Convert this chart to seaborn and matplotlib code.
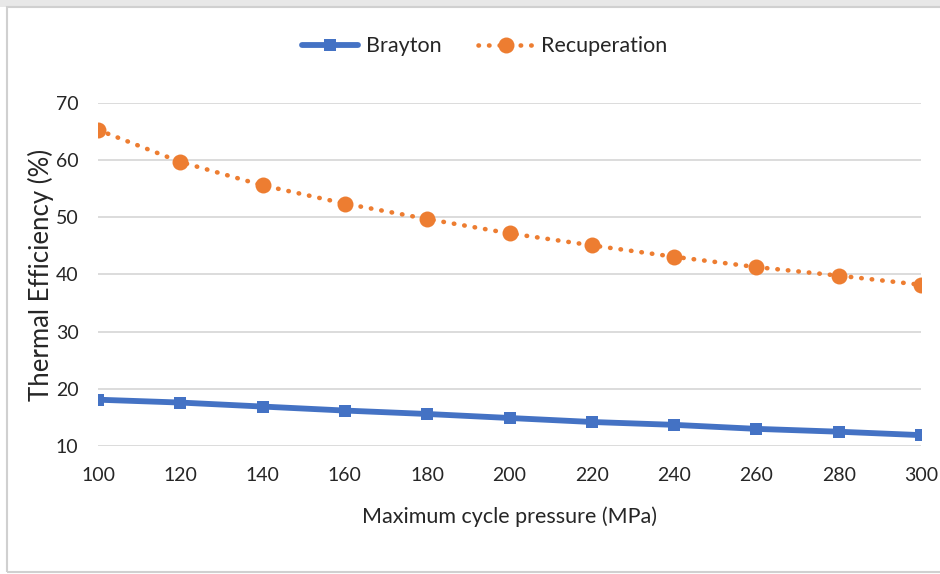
import matplotlib
matplotlib.use("Agg")
import matplotlib.pyplot as plt
import seaborn as sns
import pandas as pd
from matplotlib.patches import Rectangle

pressure = [100, 120, 140, 160, 180, 200, 220, 240, 260, 280, 300]
brayton = [18.1, 17.6, 16.9, 16.2, 15.6, 14.9, 14.2, 13.7, 13.0, 12.5, 11.9]
recuperation = [65.3, 59.7, 55.6, 52.4, 49.7, 47.2, 45.1, 43.1, 41.3, 39.8, 38.2]
series_names = ["Brayton", "Recuperation"]
x_ticks = [100, 120, 140, 160, 180, 200, 220, 240, 260, 280, 300]
y_ticks = [10, 20, 30, 40, 50, 60, 70]

sns.set_style("white")
plt.rcParams['font.family'] = ['Lato', 'DejaVu Sans']

fig = plt.figure(figsize=(9.4, 5.74), dpi=100)
W, H = 940, 574
ax = fig.add_axes([98 / W, 1 - 446 / H, (921 - 98) / W, (446 - 103) / H])

df_b = pd.DataFrame({"p": pressure, "v": brayton})
df_r = pd.DataFrame({"p": pressure, "v": recuperation})

sns.lineplot(data=df_b, x="p", y="v", ax=ax, color="#4472C4", linewidth=4.2,
             marker="s", markersize=9, markeredgewidth=0, label=series_names[0],
             solid_capstyle="round", zorder=3)
sns.lineplot(data=df_r, x="p", y="v", ax=ax, color="#ED7D31", linewidth=3.3,
             marker="o", markersize=11.5, markeredgewidth=0, label=series_names[1],
             zorder=3)
ln = ax.get_lines()[-1]
ln.set_linestyle((0, (0.1, 2.2)))
ln.set_dash_capstyle("round")

ax.set_xlim(100, 300)
ax.set_ylim(10, 70)
ax.set_xticks(x_ticks)
ax.set_yticks(y_ticks)
ax.grid(axis="y", color="#d9d9d9", linewidth=1.3)
ax.set_axisbelow(True)
for s in ax.spines.values():
    s.set_visible(False)
ax.tick_params(axis="both", length=0, labelsize=14, colors="#262626")
ax.tick_params(axis="x", pad=15)
ax.tick_params(axis="y", pad=14)
ax.set_xlabel("Maximum cycle pressure (MPa)", fontsize=15.5, color="#262626", labelpad=16)
ax.set_ylabel("Thermal Efficiency (%)", fontsize=18.5, color="#262626", labelpad=1)

leg = ax.legend(loc="center", bbox_to_anchor=(0.47, 1.165), ncol=2, frameon=False,
                fontsize=15.5, handlelength=2.6, columnspacing=1.7, handletextpad=0.35)
for t in leg.get_texts():
    t.set_color("#262626")

# outer chart frame and top strip
fig.patches.append(Rectangle((0, 1 - 7 / H), 1, 7 / H, transform=fig.transFigure,
                             facecolor="#e8e8e8", edgecolor="none", zorder=0))
fig.patches.append(Rectangle((7 / W, 2 / H), 1.0, 1 - 9 / H, transform=fig.transFigure,
                             facecolor="none", edgecolor="#d0d0d0", linewidth=1.5, zorder=1))

fig.savefig("out.png", dpi=100)
